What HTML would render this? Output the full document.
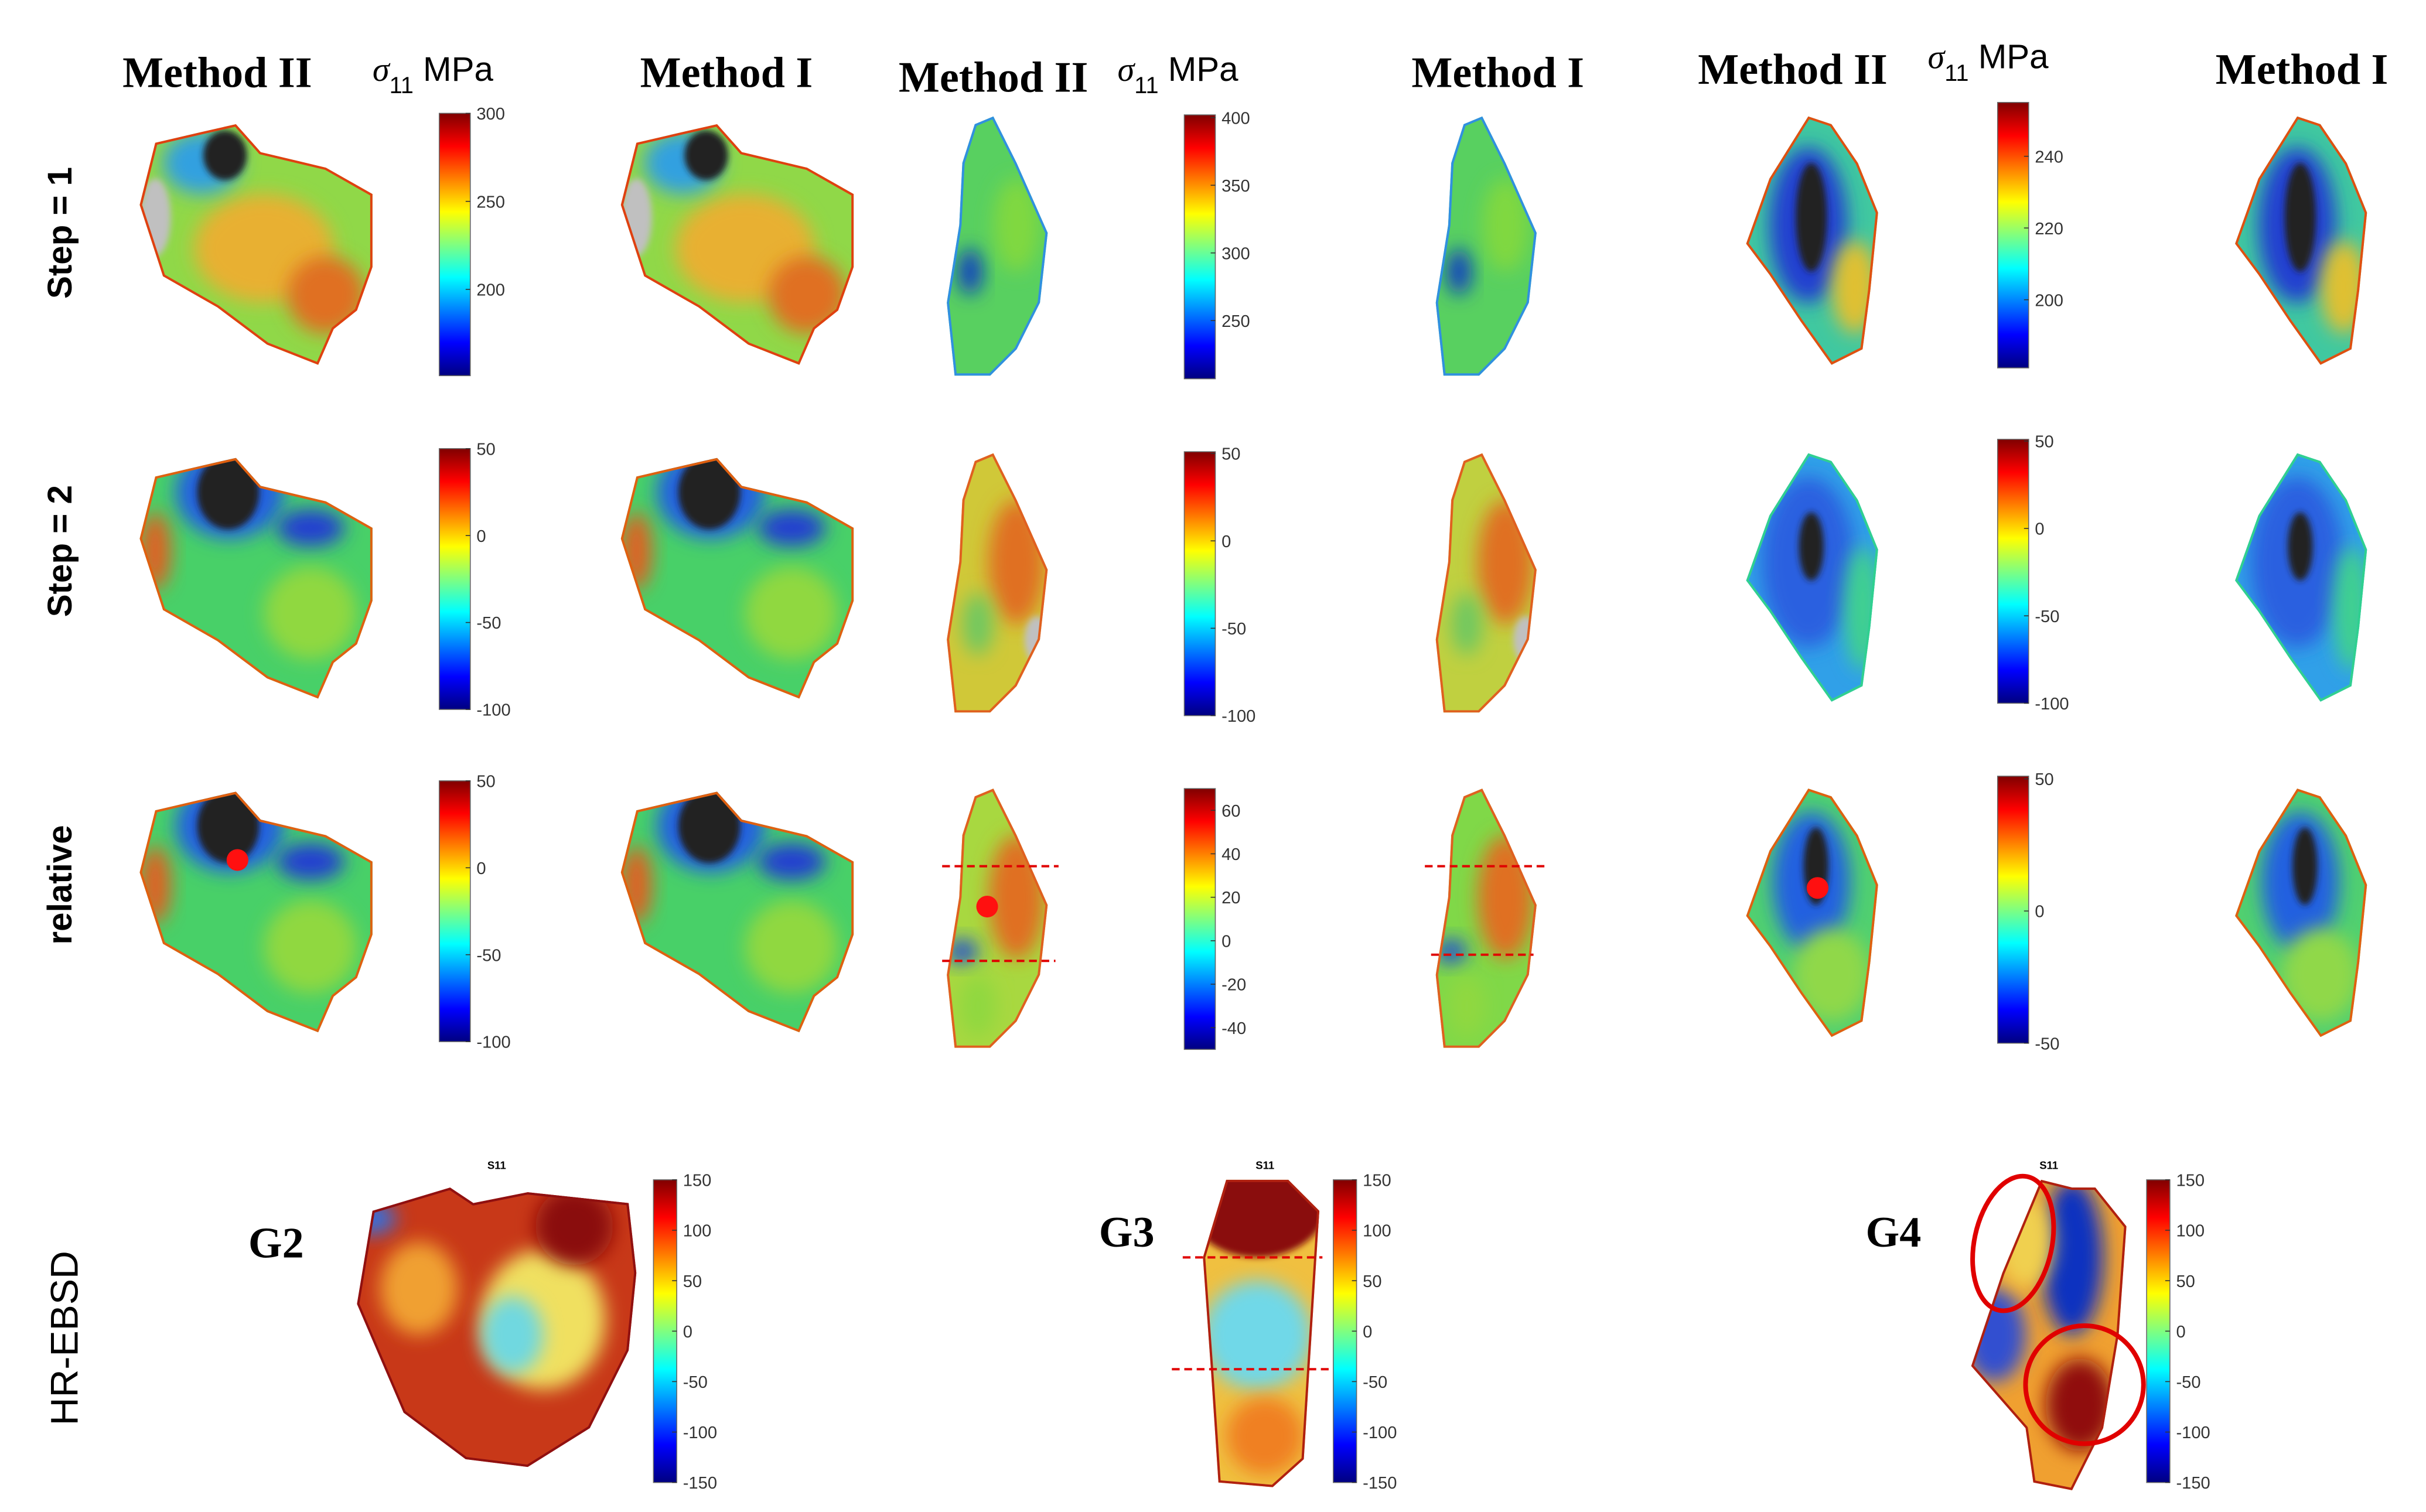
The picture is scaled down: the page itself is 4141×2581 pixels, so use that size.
<!DOCTYPE html>
<html><head><meta charset="utf-8"><style>
html,body{margin:0;padding:0;background:#fff;}
svg{display:block;}
.hd{font-family:"Liberation Serif",serif;font-weight:bold;font-size:28px;fill:#000;}
.rl{font-family:"Liberation Sans",sans-serif;font-weight:bold;font-size:22px;fill:#000;}
.tk{font-family:"Liberation Sans",sans-serif;font-size:11px;fill:#333;}
.gl{font-family:"Liberation Serif",serif;font-weight:bold;font-size:28px;fill:#000;}
</style></head><body>
<svg id="fig" width="4141" height="2581" viewBox="0 0 1563 974" preserveAspectRatio="none" xmlns="http://www.w3.org/2000/svg">
<defs>
<linearGradient id="jet" x1="0" y1="1" x2="0" y2="0">
<stop offset="0" stop-color="#000080"/><stop offset="0.125" stop-color="#0000ff"/><stop offset="0.375" stop-color="#00ffff"/><stop offset="0.625" stop-color="#ffff00"/><stop offset="0.875" stop-color="#ff0000"/><stop offset="1" stop-color="#800000"/>
</linearGradient>
<filter id="blur" x="-50%" y="-50%" width="200%" height="200%"><feGaussianBlur stdDeviation="6"/></filter>
<filter id="blur2" x="-50%" y="-50%" width="200%" height="200%"><feGaussianBlur stdDeviation="2"/></filter>
</defs>
<g>
<text class="hd" x="140" y="56" text-anchor="middle">Method II</text>
<text class="hd" x="468" y="56" text-anchor="middle">Method I</text>
<text class="hd" x="640" y="59" text-anchor="middle">Method II</text>
<text class="hd" x="965" y="56" text-anchor="middle">Method I</text>
<text class="hd" x="1155" y="54" text-anchor="middle">Method II</text>
<text class="hd" x="1483" y="54" text-anchor="middle">Method I</text>
</g>
<g font-family="Liberation Sans, sans-serif" font-size="22">
<text x="240" y="52"><tspan font-style="italic" font-family="Liberation Serif, serif">σ</tspan><tspan font-size="15" dy="8">11</tspan><tspan dy="-8"> MPa</tspan></text>
<text x="720" y="52"><tspan font-style="italic" font-family="Liberation Serif, serif">σ</tspan><tspan font-size="15" dy="8">11</tspan><tspan dy="-8"> MPa</tspan></text>
<text x="1242" y="44"><tspan font-style="italic" font-family="Liberation Serif, serif">σ</tspan><tspan font-size="15" dy="8">11</tspan><tspan dy="-8"> MPa</tspan></text>
</g>
<g>
<text class="rl" transform="translate(46,150) rotate(-90)" text-anchor="middle">Step = 1</text>
<text class="rl" transform="translate(46,355) rotate(-90)" text-anchor="middle">Step = 2</text>
<text class="rl" transform="translate(46,570) rotate(-90)" text-anchor="middle">relative</text>
<text transform="translate(50,862) rotate(-90)" text-anchor="middle" font-family="Liberation Sans, sans-serif" font-size="25">HR-EBSD</text>
</g>
<g id="maps"></g>
<g id="bars"></g>
<g>
<text class="gl" x="160" y="810">G2</text>
<text class="gl" x="708" y="803">G3</text>
<text class="gl" x="1202" y="803">G4</text>
<text x="320" y="753" font-size="7" font-family="Liberation Sans, sans-serif" font-weight="bold" text-anchor="middle">S11</text>
<text x="815" y="753" font-size="7" font-family="Liberation Sans, sans-serif" font-weight="bold" text-anchor="middle">S11</text>
<text x="1320" y="753" font-size="7" font-family="Liberation Sans, sans-serif" font-weight="bold" text-anchor="middle">S11</text>
</g>
<g id="ann" stroke="#e00000" fill="none">
<line x1="607" y1="558" x2="682" y2="558" stroke-width="1.5" stroke-dasharray="5,3"/>
<line x1="607" y1="619" x2="680" y2="619" stroke-width="1.5" stroke-dasharray="5,3"/>
<line x1="918" y1="558" x2="996" y2="558" stroke-width="1.5" stroke-dasharray="5,3"/>
<line x1="922" y1="615" x2="988" y2="615" stroke-width="1.5" stroke-dasharray="5,3"/>
<line x1="762" y1="810" x2="852" y2="810" stroke-width="1.5" stroke-dasharray="5,3"/>
<line x1="755" y1="882" x2="858" y2="882" stroke-width="1.5" stroke-dasharray="5,3"/>
<ellipse cx="1297" cy="801" rx="25" ry="44" transform="rotate(12 1297 801)" stroke-width="3"/>
<circle cx="1343" cy="892" r="38" stroke-width="3"/>
<circle cx="153" cy="554" r="7" fill="#ff1010" stroke="none"/>
<circle cx="636" cy="584" r="7" fill="#ff1010" stroke="none"/>
<circle cx="1171" cy="572" r="7" fill="#ff1010" stroke="none"/>
</g>
</svg>
<script>
// colorbar tick data
const bar1Ticks=[300,250,200];
const bar2Ticks=[50,0,-50,-100];
const bar3Ticks=[50,0,-50,-100];
const bar4Ticks=[400,350,300,250];
const bar5Ticks=[50,0,-50,-100];
const bar6Ticks=[60,40,20,0,-20,-40];
const bar7Ticks=[240,220,200];
const bar8Ticks=[50,0,-50,-100];
const bar9Ticks=[50,0,-50];
const hrTicks=[150,100,50,0,-50,-100,-150];
const NS="http://www.w3.org/2000/svg";
function mk(t,a,p){const e=document.createElementNS(NS,t);for(const k in a)e.setAttribute(k,a[k]);(p||document.getElementById('fig')).appendChild(e);return e;}
const bars=document.getElementById('bars');
const barDefs=[
 [283,73,242,bar1Ticks,300,151],[283,289,457,bar2Ticks,50,-100],[283,503,671,bar3Ticks,50,-100],
 [763,74,244,bar4Ticks,402,207],[763,291,461,bar5Ticks,51,-100],[763,508,676,bar6Ticks,70,-50],
 [1287,66,237,bar7Ticks,255,181],[1287,283,453,bar8Ticks,51,-100],[1287,500,672,bar9Ticks,51,-50],
 [421,760,955,hrTicks,150,-150],[859,760,955,hrTicks,150,-150],[1383,760,955,hrTicks,150,-150]];
barDefs.forEach((b,i)=>{
 const [x,y0,y1,ticks,vmax,vmin]=b; const w=i>=9?15:20;
 const g=mk('g',{},bars);
 
 
 mk('rect',{x:x,y:y0,width:w,height:y1-y0,fill:'url(#jet)',stroke:'#666','stroke-width':0.6},g);
 const sy=v=>y0+(vmax-v)/(vmax-vmin)*(y1-y0);
 ticks.forEach(t=>{const y=sy(t);
  mk('line',{x1:x+w-3,y1:y,x2:x+w,y2:y,stroke:'#333','stroke-width':0.6},g);
  const tx=mk('text',{x:x+w+4,y:y+4,class:'tk'},g);tx.textContent=t;
  
  
 });
});
const G2=[[10,12],[40,5],[62,0],[78,18],[120,28],[150,45],[150,92],[140,120],[125,132],[115,155],[82,142],[50,118],[15,98],[0,52]];
const G3=[[18,5],[30,0],[45,30],[65,75],[60,120],[45,150],[28,167],[5,167],[0,120],[8,70],[10,30]];
const G4=[[40,0],[55,5],[72,30],[85,62],[80,112],[75,150],[55,160],[35,132],[15,102],[0,82],[15,40]];
const maps=document.getElementById('maps');let cid=0;
function drawMap(name,shape,ox,oy,base,blobs,edge){
 const g=mk('g',{},maps);
 
 
 const pts=shape.map(p=>(p[0]+ox)+','+(p[1]+oy)).join(' ');
 const id='c'+(cid++);
 const cp=mk('clipPath',{id:id},g);mk('polygon',{points:pts},cp);
 mk('polygon',{points:pts,fill:base},g);
 const inner=mk('g',{'clip-path':'url(#'+id+')'},g);
 blobs.forEach(b=>mk('ellipse',{cx:ox+b[0],cy:oy+b[1],rx:b[2],ry:b[3],fill:b[4],filter:b[5]?'url(#blur2)':'url(#blur)'},inner));
 mk('polygon',{points:pts,fill:'none',stroke:edge,'stroke-width':3,'stroke-linejoin':'round'},inner);
}
const g2s1=[[80,80,45,35,'#e8b030'],[40,25,25,20,'#30a0e0'],[55,20,14,16,'#202020',1],[120,110,25,25,'#e07020'],[10,60,10,25,'#c0c0c0',1]];
const g2s2=[[58,22,35,30,'#2060e0'],[57,22,20,24,'#222',1],[110,45,22,12,'#2040d0'],[110,100,30,30,'#90d840'],[10,60,10,25,'#e06020']];
drawMap('map-g2-step1-method2',G2,90,80,'#90d848',g2s1,'#e04010');
drawMap('map-g2-step1-method1',G2,400,80,'#90d848',g2s1,'#e04010');
drawMap('map-g2-step2-method2',G2,90,295,'#48d068',g2s2,'#e06010');
drawMap('map-g2-step2-method1',G2,400,295,'#48d068',g2s2,'#e06010');
drawMap('map-g2-rel-method2',G2,90,510,'#48d068',g2s2,'#e06010');
drawMap('map-g2-rel-method1',G2,400,510,'#48d068',g2s2,'#e06010');
const g3s1=[[15,100,8,15,'#1040c0'],[45,70,15,30,'#80d840']];
const g3s2=[[45,70,18,40,'#e07020'],[20,110,10,20,'#70c860'],[58,120,8,15,'#c0c0c0',1]];
const g3s3=[[45,70,18,40,'#e07020'],[10,105,10,8,'#2050d0'],[20,140,12,20,'#90d840']];
drawMap('map-g3-step1-method2',G3,610,75,'#58d060',g3s1,'#3090e0');
drawMap('map-g3-step1-method1',G3,925,75,'#58d060',g3s1,'#3090e0');
drawMap('map-g3-step2-method2',G3,610,292,'#d0c838',g3s2,'#e06020');
drawMap('map-g3-step2-method1',G3,925,292,'#c0d040',g3s2,'#e06020');
drawMap('map-g3-rel-method2',G3,610,508,'#a8d840',g3s3,'#e06020');
drawMap('map-g3-rel-method1',G3,925,508,'#80d848',g3s3,'#e06020');
const g4s1=[[40,70,25,50,'#2040d0'],[42,65,10,35,'#222',1],[70,110,15,30,'#e0c030']];
const g4s2=[[40,70,30,55,'#2a60e0'],[42,60,8,22,'#222',1],[75,100,12,40,'#40d090']];
const g4s3=[[42,60,25,45,'#2060e0'],[45,50,8,25,'#222',1],[55,120,25,30,'#90d848']];
drawMap('map-g4-step1-method2',G4,1125,75,'#40c8a0',g4s1,'#e05010');
drawMap('map-g4-step1-method1',G4,1440,75,'#40c8a0',g4s1,'#e05010');
drawMap('map-g4-step2-method2',G4,1125,292,'#30a0e8',g4s2,'#30d090');
drawMap('map-g4-step2-method1',G4,1440,292,'#30a0e8',g4s2,'#30d090');
drawMap('map-g4-rel-method2',G4,1125,508,'#50d070',g4s3,'#e06010');
drawMap('map-g4-rel-method1',G4,1440,508,'#50d070',g4s3,'#e06010');
const H2=[[10,20],[60,5],[75,15],[110,8],[175,15],[180,60],[175,110],[150,160],[110,185],[70,180],[30,150],[0,80]];
drawMap('hrebsd-g2',H2,230,760,'#c83818',[[120,90,40,45,'#f0e060'],[100,100,20,25,'#70d8e0'],[40,70,25,30,'#f0a030'],[140,30,25,25,'#8a1010'],[10,25,15,10,'#3070e0']],'#901010');
const H3=[[15,0],[55,0],[75,20],[70,100],[65,180],[45,198],[10,195],[5,120],[0,50]];
drawMap('hrebsd-g3',H3,775,760,'#f0c040',[[35,15,45,35,'#8a1010',1],[35,100,35,35,'#70d8e8'],[40,165,25,25,'#f08020']],'#b02010');
const H4=[[50,0],[70,5],[85,5],[105,30],[100,100],[90,160],[70,200],[45,195],[40,160],[5,120],[25,60]];
drawMap('hrebsd-g4',H4,1265,760,'#f0a030',[[70,50,20,50,'#1030c0'],[20,100,20,30,'#3050d0'],[75,145,22,30,'#901010'],[40,40,18,30,'#f0d050']],'#b02010');
</script>
</body></html>
